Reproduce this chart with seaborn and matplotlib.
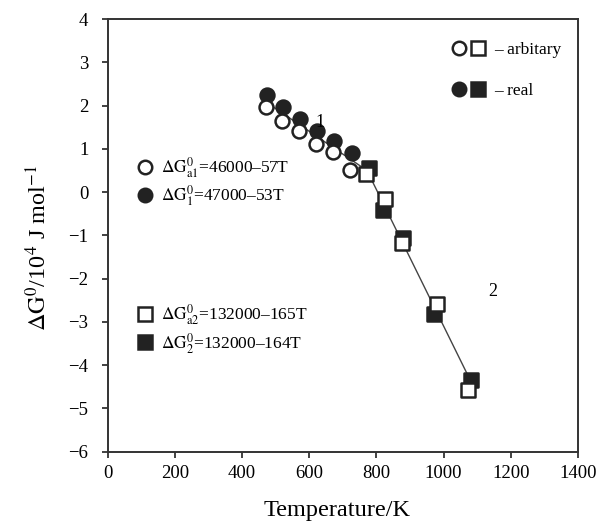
import matplotlib
matplotlib.use("Agg")
import matplotlib.pyplot as plt
import seaborn as sns
import pandas as pd
from matplotlib.lines import Line2D
from matplotlib.legend_handler import HandlerTuple

# temperatures (K) and Gibbs energies (10^4 J/mol)
t_arb_1 = [470, 520, 570, 620, 672, 720]
g_arb_1 = [1.97, 1.65, 1.42, 1.12, 0.92, 0.50]
t_real_1 = [474, 521, 572, 623, 675, 726]
g_real_1 = [2.25, 1.97, 1.68, 1.42, 1.18, 0.90]
t_arb_2 = [768, 826, 877, 980, 1074]
g_arb_2 = [0.43, -0.15, -1.18, -2.58, -4.58]
t_real_2 = [778, 820, 879, 972, 1081]
g_real_2 = [0.55, -0.42, -1.05, -2.82, -4.33]
t_fit = [468, 772, 1086]
g_fit = [2.10, 0.50, -4.45]

eq_labels = [r'$\Delta\mathrm{G}^{0}_{\mathrm{a1}}$=46000–57T',
             r'$\Delta\mathrm{G}^{0}_{1}$=47000–53T',
             r'$\Delta\mathrm{G}^{0}_{\mathrm{a2}}$=132000–165T',
             r'$\Delta\mathrm{G}^{0}_{2}$=132000–164T']
kind_labels = ['– arbitary', '– real']

INK = '#222222'

sns.set_style("ticks")
plt.rcParams['font.family'] = ['Liberation Serif', 'DejaVu Serif']
plt.rcParams['mathtext.fontset'] = 'stix'
plt.rcParams['text.color'] = 'black'
plt.rcParams['axes.labelcolor'] = 'black'
plt.rcParams['xtick.labelcolor'] = 'black'
plt.rcParams['ytick.labelcolor'] = 'black'

fig = plt.figure(figsize=(6.02, 5.29), dpi=100)
ax = fig.add_axes([0.179, 0.146, 0.781, 0.818])

fit = pd.DataFrame({'T': t_fit, 'G': g_fit})
sns.lineplot(data=fit, x='T', y='G', color='#444444', linewidth=1.0, ax=ax, zorder=1)

def points(t, g, marker, face, z):
    sns.scatterplot(x=t, y=g, marker=marker, s=100, facecolor=face,
                    edgecolor=INK, linewidth=1.8, ax=ax, zorder=z)

points(t_real_1, g_real_1, 'o', INK, 2)
points(t_arb_1, g_arb_1, 'o', 'white', 3)
points(t_real_2, g_real_2, 's', INK, 4)
points(t_arb_2, g_arb_2, 's', 'white', 5)

ax.text(632, 1.62, '1', fontsize=13, ha='center', va='center')
ax.text(1145, -2.3, '2', fontsize=13, ha='center', va='center')

def key(marker, face):
    return Line2D([], [], ls='', marker=marker, ms=9.7, mfc=face, mec=INK, mew=1.8)

o_open, o_fill = key('o', 'white'), key('o', INK)
s_open, s_fill = key('s', 'white'), key('s', INK)

leg_kind = ax.legend([(o_open, s_open), (o_fill, s_fill)], kind_labels,
                     handler_map={tuple: HandlerTuple(ndivide=None, pad=0.4)},
                     loc='upper left', bbox_to_anchor=(0.734, 0.948),
                     frameon=False, fontsize=12.5, handlelength=1.8,
                     handletextpad=0.57, labelspacing=1.45,
                     borderpad=0, borderaxespad=0)
ax.add_artist(leg_kind)

leg_c = ax.legend([o_open, o_fill], eq_labels[:2], loc='upper left',
                  bbox_to_anchor=(0.06, 0.685), frameon=False, fontsize=12.5,
                  handlelength=1.0, handletextpad=0.42, labelspacing=0.2,
                  borderpad=0, borderaxespad=0)
ax.add_artist(leg_c)

ax.legend([s_open, s_fill], eq_labels[2:], loc='upper left',
          bbox_to_anchor=(0.06, 0.345), frameon=False, fontsize=12.5,
          handlelength=1.0, handletextpad=0.42, labelspacing=0.2,
          borderpad=0, borderaxespad=0)

ax.set_xlim(0, 1400)
ax.set_ylim(-6, 4)
ax.set_xticks(range(0, 1401, 200))
ax.set_yticks(range(-6, 5))
ax.set_xlabel('Temperature/K', fontsize=17.5)
ax.set_ylabel(r'$\Delta\mathrm{G}^{0}$/10$^{4}$ J mol$^{-1}$', fontsize=17.5)
ax.xaxis.set_label_coords(0.488, -0.112)
ax.yaxis.set_label_coords(-0.12, 0.47)
ax.tick_params(direction='out', length=4.5, width=1.3, color='#333333',
               labelsize=13.5)
ax.tick_params(axis='x', pad=5)
ax.tick_params(axis='y', pad=9.5)
for sp in ax.spines.values():
    sp.set_visible(True)
    sp.set_color('#333333')
    sp.set_linewidth(1.4)

fig.savefig('out.png', dpi=100)
